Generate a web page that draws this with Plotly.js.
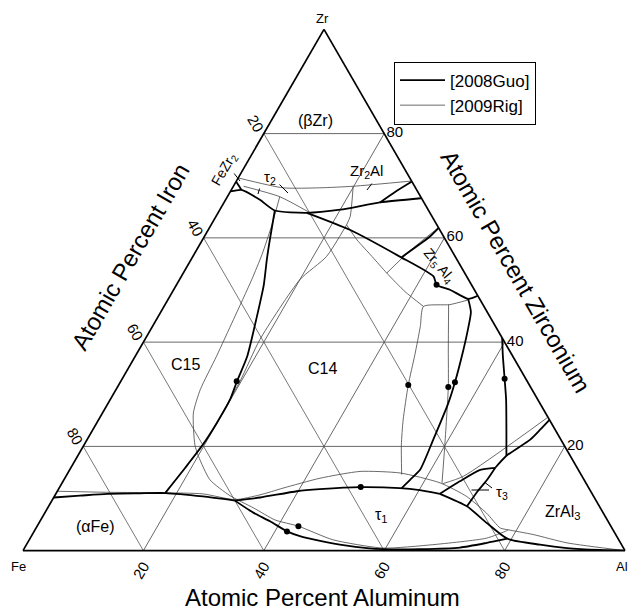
<!DOCTYPE html>
<html><head><meta charset="utf-8">
<script src="https://cdn.plot.ly/plotly-3.0.1.min.js"></script>
<style>html,body{margin:0;padding:0;background:#fff}#chart{width:630px;height:612px}</style>
</head><body><div id="chart"></div>
<script>
// Each point: [Zr at.%, Al at.%]; Fe = 100 - Zr - Al
// ---- [2008Guo] boundaries ----
const guoAlphaFe   = [[10.2,0],[10.55,4.2],[10.9,8.5],[11.0,13.9],[11.05,18.1],[10.4,24.7],[9.6,30.4]];
const guoTau1Upper = [[9.6,30.4],[10.2,34.3],[11.4,39.8],[11.8,43.4],[12.2,49.9],[12.0,56.6],[11.6,60.1],[10.9,63.8]];
const guoTau1Lower = [[9.6,30.4],[7.3,34.6],[5.6,38.3],[3.7,42.0],[2.8,44.6],[1.9,48.4],[1.0,53.0],[0.5,56.9],[0.3,59.7],[0.3,65.8],[0.6,72.3],[1.5,76.3],[2.3,79.3]];
const guoTau1Al    = [[10.9,63.8],[8.5,69.5],[5.3,74.4],[2.3,79.3],[1.15,85.3],[0.5,90.1],[0.13,95.8],[0,100]];
const guoC15C14    = [[11.05,18.1],[15.9,19.0],[20.3,19.7],[24.5,19.95],[29.0,19.9],[32.5,19.3],[37.3,18.6],[44.9,16.4],[51.0,14.5],[55.8,12.6],[59.6,11.2],[65.25,9.2]];
const guoFeZr2     = [[70.8,0],[69.2,1.7]];
const guoZr2AlLow  = [[68.9,0],[69.2,1.7],[67.3,5.7],[65.25,9.2],[64.8,14.75],[65.4,20.0],[66.8,25.9],[67.6,32.3]];
const guoZr2AlUp   = [[70.8,29.2],[68.8,27.4],[66.8,25.9]];
const guoZr5Al4    = [[64.8,14.75],[61.55,23.5],[56.4,34.4],[52.6,41.9],[51.0,43.2],[50.05,45.9],[48.3,49.8],[48.9,51.1]];
const guoZr5Al4Tie = [[61.9,38.1],[60.3,37.5],[56.3,34.75]];
const guoMidCurve  = [[48.3,49.8],[45.8,51.5],[42.4,52.7],[38.5,53.9],[32.3,55.6],[28.3,56.5],[21.3,57.5],[15.5,58.2],[13.6,57.5],[12.0,56.9]];
const guoRightCurve= [[40.8,59.2],[37.6,60.9],[33.0,63.5],[29.0,65.75],[23.2,68.7],[18.2,71.2]];
const guoZrAl3     = [[25.1,74.9],[23.2,74.3],[21.3,73.6],[18.2,71.2],[15.9,70.5]];
const guoTau3Upper = [[10.9,63.8],[13.3,65.9],[15.5,68.2],[15.9,70.5]];
const guoTau3Right = [[15.9,70.5],[13.6,70.3],[11.3,69.8],[8.5,69.5]];
// ---- [2009Rig] boundaries ----
const rigAlphaFe   = [[11.4,0],[11.2,8.3],[11.1,18.0],[10.9,24.4],[9.8,30.3],[10.7,34.0],[12.0,37.2],[13.9,42.4],[15.2,48.4],[14.9,55.2],[13.0,62.8],[10.4,68.5],[7.2,73.4],[4.35,77.1],[4.0,78.6],[3.1,83.2],[1.5,89.6],[0,100]];
const rigC15       = [[67.9,8.7],[62.5,10.1],[56.8,11.3],[52.0,12.0],[44.3,12.8],[37.3,13.5],[30.9,14.0],[26.4,15.1],[20.3,18.4],[18.1,20.1],[13.6,24.25],[10.55,29.1],[8.2,34.2],[5.9,38.9],[4.7,43.4],[2.1,50.4],[0.5,59.5],[1.15,67.5],[2.4,75.8],[3.8,78.4],[4.0,78.6]];
const rigC14       = [[11.1,18.0],[15.9,19.0],[20.3,19.8],[32.5,19.8],[40.5,19.1],[52.0,20.0],[56.4,22.2],[62.5,22.5]];
const rigArc       = [[62.5,22.5],[59.6,25.7],[56.4,29.8],[53.25,33.8],[49.7,38.6],[46.85,43.1]];
const rigMidLeft   = [[48.1,49.9],[47.2,47.3],[46.85,43.1],[43.0,44.5],[37.6,46.3],[31.8,48.1],[25.1,50.6],[20.3,52.7],[14.6,55.6]];
const rigMidRight  = [[47.2,47.1],[38.5,51.4],[31.4,54.95],[19.9,60.1],[13.0,63.1]];
const rigZr5Al4    = [[61.9,38.0],[57.5,35.5],[53.25,33.8]];
const rigBetaZr    = [[71.5,0],[69.6,8.4],[69.6,14.5],[69.9,19.9],[70.9,29.1]];
const rigZr2Al     = [[69.9,19.9],[64.1,22.3],[62.5,22.5]];
const rigTau2      = [[69.9,1.7],[67.9,8.7],[64.8,15.3]];
const rigTau3      = [[25.45,74.3],[14.25,66.0],[12.85,63.3]];
// ---- measured points ----
const dotPoints    = [[32.5,19.25],[51.0,43.2],[32.3,55.6],[33.0,63.5],[12.2,50.0],[3.7,42.0],[31.8,48.1],[31.4,54.95],[4.7,43.4]];
// ---- ticks ----
const tickVals  = [20,40,60,80];
const tickTexts = ['80','60','40','20'];

const guoCurves = [guoAlphaFe,guoTau1Upper,guoTau1Lower,guoTau1Al,guoC15C14,guoFeZr2,guoZr2AlLow,guoZr2AlUp,guoZr5Al4,guoZr5Al4Tie,guoMidCurve,guoRightCurve,guoZrAl3,guoTau3Upper,guoTau3Right];
const rigCurves = [rigAlphaFe,rigC15,rigC14,rigArc,rigMidLeft,rigMidRight,rigZr5Al4,rigBetaZr,rigZr2Al,rigTau2,rigTau3];

function abc(pts){
  return {a: pts.map(p=>p[0]), c: pts.map(p=>p[1]), b: pts.map(p=>Math.max(0,+(100-p[0]-p[1]).toFixed(3)))};
}
const traces = [];
rigCurves.forEach((pts,i)=>{
  traces.push(Object.assign({type:'scatterternary',mode:'lines',name:'[2009Rig]',showlegend:i===0,legendrank:2,
    hoverinfo:'skip',line:{color:'#444',width:0.8,shape:'spline',smoothing:0.6}},abc(pts)));
});
guoCurves.forEach((pts,i)=>{
  traces.push(Object.assign({type:'scatterternary',mode:'lines',name:'[2008Guo]',showlegend:i===0,legendrank:1,
    hoverinfo:'skip',line:{color:'#000',width:1.8,shape:'spline',smoothing:0.6}},abc(pts)));
});
traces.push(Object.assign({type:'scatterternary',mode:'markers',showlegend:false,hoverinfo:'skip',
  marker:{color:'#000',size:6}},abc(dotPoints)));

const L=23,T=29,PW=602,PH=522;
function ann(text,x,y,size,angle){
  return {text:text,xref:'paper',yref:'paper',x:(x-L)/PW,y:1-(y-T)/PH,xanchor:'center',yanchor:'middle',
    showarrow:false,font:{size:size},textangle:angle||0};
}
// leader line from label (x1,y1) to phase (x2,y2), page pixels
function leader(x1,y1,x2,y2){
  return {text:'',xref:'paper',yref:'paper',x:(x2-L)/PW,y:1-(y2-T)/PH,axref:'pixel',ayref:'pixel',
    ax:x1-x2,ay:y1-y2,showarrow:true,arrowhead:0,arrowwidth:1,arrowcolor:'#000',standoff:0,startstandoff:0};
}
const axisBase = {tickvals:tickVals,ticktext:tickTexts,ticks:'',showline:true,linecolor:'#000',linewidth:1.7,
  showgrid:true,gridcolor:'#555',gridwidth:0.8,tickfont:{size:15},title:{text:''}};

const layout = {
  width:630,height:612,margin:{l:L,r:5,t:T,b:61},paper_bgcolor:'#fff',
  font:{family:'Liberation Sans, Arial, sans-serif',color:'#000'},
  showlegend:true,
  ternary:{sum:100,bgcolor:'#fff',
    aaxis:Object.assign({},axisBase,{tickangle:60}),
    baxis:Object.assign({},axisBase,{tickangle:-60}),
    caxis:Object.assign({},axisBase,{tickangle:0})},
  legend:{x:(394-L)/PW,y:1-(61.5-T)/PH,xanchor:'left',yanchor:'top',bordercolor:'#000',borderwidth:1,
    bgcolor:'#fff',font:{size:17},itemwidth:45,tracegroupgap:0},
  annotations:[
    ann('Zr',322.5,18,13), ann('Fe',18,566,13), ann('Al',622,566,13),
    ann('(βZr)',315.5,120,16),
    ann('FeZr<sub>2</sub>',224,170,14,-60),
    ann('τ<sub>2</sub>',270,178,15),
    ann('Zr<sub>2</sub>Al',366,171,15),
    ann('Zr<sub>5</sub> Al<sub>4</sub>',439,266,14,50),
    ann('C15',185,364,16), ann('C14',322,369,16),
    ann('(αFe)',95,526,16), ann('τ<sub>1</sub>',381,515,16),
    ann('τ<sub>3</sub>',502,492,15), ann('ZrAl<sub>3</sub>',563,512,16),
    ann('Atomic Percent Aluminum',322,597,24),
    ann('Atomic Percent Iron',130.5,256.5,24,-60),
    ann('Atomic Percent Zirconium',516,271,24,60),
    leader(233,172,240,181),
    leader(260,187,258,194),
    leader(278,183,288,193),
    leader(373,182,367,190),
    leader(470,490,489,490),
    leader(483,481,492,488)
  ]
};
Plotly.newPlot('chart',traces,layout,{displayModeBar:false,staticPlot:true});
</script>
</body></html>
